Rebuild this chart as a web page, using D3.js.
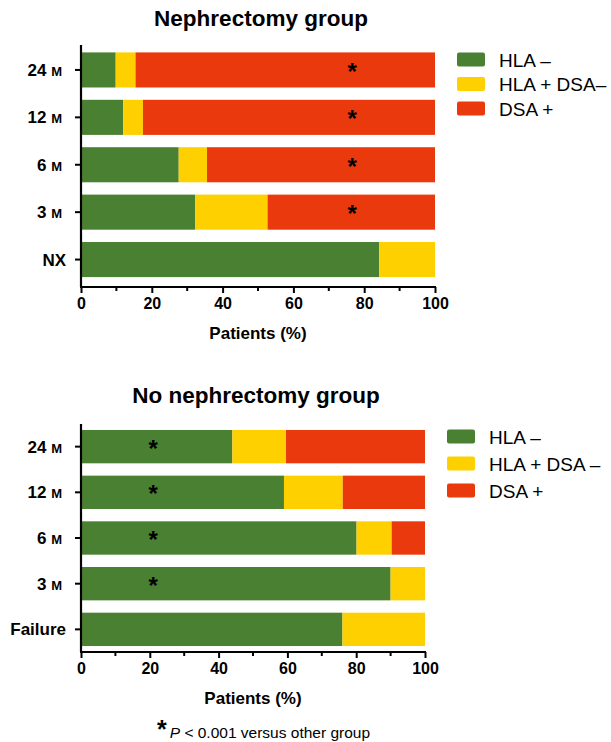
<!DOCTYPE html>
<html>
<head>
<meta charset="utf-8">
<script src="https://cdn.jsdelivr.net/npm/d3@7"></script>
<style>
  body { margin: 0; background: #fff; }
  svg { font-family: "Liberation Sans", Arial, sans-serif; }
</style>
</head>
<body>
<svg id="chart" width="611" height="742"></svg>
<script>
// Timepoints (bottom to top as drawn: first entry at the bottom)
const nxCategories = ["NX", "3", "6", "12", "24"];
const noNxCategories = ["Failure", "3", "6", "12", "24"];

// Percent of patients per status, Nephrectomy group
const nxHlaNeg = [84.2, 32.3, 27.6, 11.9, 9.8];
const nxHlaPosDsaNeg = [15.8, 20.4, 8.0, 5.6, 5.6];
const nxDsaPos = [0, 47.3, 64.4, 82.5, 84.6];

// Percent of patients per status, No nephrectomy group
const noNxHlaNeg = [76.0, 90.0, 80.1, 59.0, 44.0];
const noNxHlaPosDsaNeg = [24.0, 10.0, 10.2, 17.1, 15.6];
const noNxDsaPos = [0, 0, 9.7, 23.9, 40.4];

// Significance markers (category -> x position in %)
const nxStars = ["3", "6", "12", "24"];
const nxStarAt = 76.6;
const noNxStars = ["3", "6", "12", "24"];
const noNxStarAt = 21;

const xTicks = [0, 20, 40, 60, 80, 100];
const xMinorTicks = [10, 30, 50, 70, 90];
const seriesKeys = ["hlaNeg", "hlaPosDsaNeg", "dsaPos"];
const colors = ["#4a8031", "#ffd000", "#e9390d"];

const svg = d3.select("#chart");

function panel(opts) {
  const rows = opts.categories.map((c, i) => ({
    cat: c,
    hlaNeg: opts.s1[i], hlaPosDsaNeg: opts.s2[i], dsaPos: opts.s3[i]
  }));
  const stacked = d3.stack().keys(seriesKeys)(rows);

  const x = d3.scaleLinear().domain([0, 100]).range([opts.x0, opts.x1]);
  const y = d3.scaleBand()
    .domain(opts.categories.slice().reverse())
    .range([opts.yTop, opts.yBottom])
    .paddingInner(opts.padInner).paddingOuter(opts.padOuter);

  const g = svg.append("g");

  g.append("text")
    .attr("x", opts.titleX).attr("y", opts.titleY)
    .attr("text-anchor", "middle")
    .attr("font-weight", "bold").attr("font-size", 22.5)
    .text(opts.title);

  g.selectAll("g.series").data(stacked).join("g")
    .attr("fill", (d, i) => colors[i])
    .selectAll("rect").data(d => d).join("rect")
    .attr("x", d => x(d[0]))
    .attr("y", d => y(d.data.cat))
    .attr("width", d => Math.max(0, x(d[1]) - x(d[0])))
    .attr("height", y.bandwidth());

  // stars
  g.selectAll("text.star").data(opts.stars).join("text")
    .attr("x", x(opts.starAt))
    .attr("y", d => y(d) + y.bandwidth() / 2 + 10)
    .attr("text-anchor", "middle")
    .attr("font-size", 24).attr("font-weight", "bold")
    .text("*");

  // x axis
  const xAxis = g.append("g")
    .attr("transform", `translate(0,${opts.axisY})`);
  xAxis.call(d3.axisBottom(x).tickValues(xTicks).tickSize(6).tickPadding(5))
    .call(a => a.select(".domain").remove())
    .call(a => a.selectAll("text").attr("font-size", 16).attr("font-weight", "bold")
      .attr("font-family", "Liberation Sans, Arial, sans-serif").attr("fill", "#000"))
    .call(a => a.selectAll("line").attr("stroke-width", 2));
  xAxis.selectAll("line.minor").data(xMinorTicks).join("line")
    .attr("class", "minor")
    .attr("x1", d => x(d)).attr("x2", d => x(d))
    .attr("y1", 0).attr("y2", 4)
    .attr("stroke", "#000").attr("stroke-width", 2);
  xAxis.append("line")
    .attr("x1", opts.x0 - 1).attr("x2", opts.x1 + 1)
    .attr("stroke", "#000").attr("stroke-width", 2.2);

  g.append("text")
    .attr("x", (opts.x0 + opts.x1) / 2).attr("y", opts.axisY + 52)
    .attr("text-anchor", "middle")
    .attr("font-weight", "bold").attr("font-size", 17)
    .text("Patients (%)");

  // y axis
  g.append("line")
    .attr("x1", opts.x0).attr("x2", opts.x0)
    .attr("y1", opts.yAxisTop).attr("y2", opts.axisY)
    .attr("stroke", "#000").attr("stroke-width", 2.2);
  opts.categories.forEach(c => {
    const cy = y(c) + y.bandwidth() / 2;
    g.append("line")
      .attr("x1", opts.x0 - 6).attr("x2", opts.x0)
      .attr("y1", cy).attr("y2", cy)
      .attr("stroke", "#000").attr("stroke-width", 2);
    const isMonth = /^\d+$/.test(c);
    const t = g.append("text")
      .attr("x", isMonth ? opts.x0 - 19 : opts.x0 - 15).attr("y", cy + 6)
      .attr("text-anchor", "end")
      .attr("font-weight", "bold").attr("font-size", 17);
    if (isMonth) {
      t.append("tspan").text(c + " ");
      t.append("tspan").attr("font-size", 13).text("M");
    } else {
      t.text(c);
    }
  });

  // legend
  const lg = g.append("g");
  opts.legend.forEach((lab, i) => {
    const ly = opts.legendY + i * opts.legendStep;
    lg.append("rect")
      .attr("x", opts.legendX).attr("y", ly)
      .attr("width", 28).attr("height", 14).attr("rx", 2)
      .attr("fill", colors[i]);
    lg.append("text")
      .attr("x", opts.legendX + 42).attr("y", ly + 14)
      .attr("font-size", 19)
      .text(lab);
  });
}

panel({
  title: "Nephrectomy group", titleX: 261, titleY: 26,
  categories: nxCategories, s1: nxHlaNeg, s2: nxHlaPosDsaNeg, s3: nxDsaPos,
  stars: nxStars, starAt: nxStarAt,
  x0: 81, x1: 435,
  yTop: 41.5, yBottom: 288, padInner: 0.26, padOuter: 0.23,
  yAxisTop: 45, axisY: 287,
  legend: ["HLA \u2013", "HLA + DSA\u2013", "DSA +"],
  legendX: 457, legendY: 52.5, legendStep: 24.5
});

panel({
  title: "No nephrectomy group", titleX: 256, titleY: 403,
  categories: noNxCategories, s1: noNxHlaNeg, s2: noNxHlaPosDsaNeg, s3: noNxDsaPos,
  stars: noNxStars, starAt: noNxStarAt,
  x0: 81, x1: 425,
  yTop: 419, yBottom: 657, padInner: 0.27, padOuter: 0.24,
  yAxisTop: 424, axisY: 652,
  legend: ["HLA \u2013", "HLA + DSA \u2013", "DSA +"],
  legendX: 447, legendY: 429.5, legendStep: 27
});

// footnote
const fn = svg.append("text")
  .attr("x", 157).attr("y", 738)
  .attr("font-size", 15.5);
fn.append("tspan").attr("font-size", 25).attr("font-weight", "bold").text("*");
fn.append("tspan").attr("font-style", "italic").attr("dx", 3).text("P");
fn.append("tspan").text(" < 0.001 versus other group");
</script>
</body>
</html>
